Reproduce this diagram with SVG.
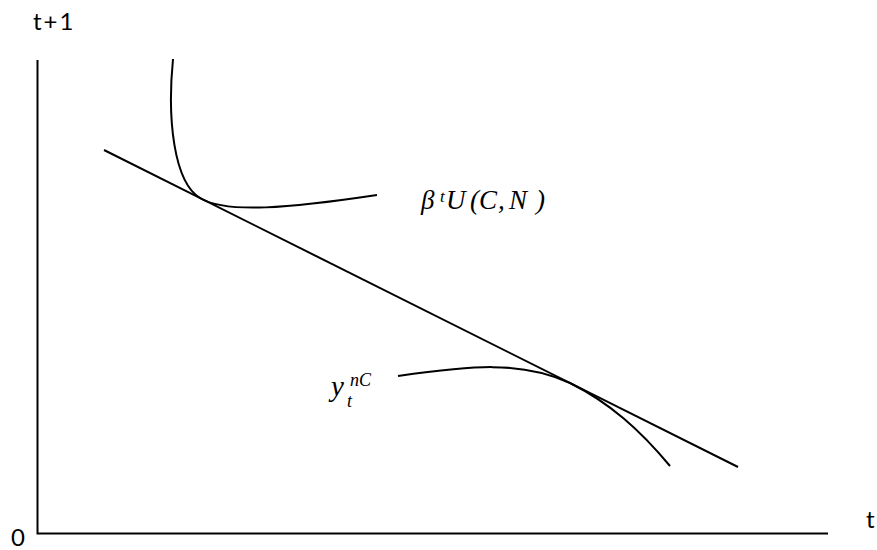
<svg xmlns="http://www.w3.org/2000/svg" width="877" height="550" viewBox="0 0 877 550">
<style>
.ln{fill:none;stroke:#000;stroke-width:2;stroke-linecap:butt}
.ax{font-family:Lato,"Open Sans","Liberation Sans",sans-serif;font-size:24px;fill:#000}
.m{font-family:"Liberation Serif","Times New Roman",serif;font-style:italic;fill:#000}
</style>
<rect width="877" height="550" fill="#fff"/>
<g id="axes">
<path class="ln" d="M37.5,60 V533.5 H828"/>
<text class="ax" x="33" y="30" letter-spacing="2">t+1</text>
<text class="ax" x="866" y="528">t</text>
<text class="ax" x="11" y="546">0</text>
</g>
<g id="connectors">
<path id="budget-line" class="ln" d="M104,150 L738,467"/>
</g>
<g id="indifference-curve">
<path class="ln" d="M173,59 C167,120 174,182 200,198 C226,214 290,208 377,195"/>
<text class="m" font-size="27"><tspan x="421" y="209">β</tspan><tspan x="440" y="202" font-size="17">t</tspan><tspan x="446" y="209">U</tspan><tspan x="470" y="209">(</tspan><tspan x="479" y="209">C</tspan><tspan x="498" y="209">,</tspan><tspan x="509" y="209">N</tspan><tspan x="536" y="209">)</tspan></text>
</g>
<g id="production-curve">
<path class="ln" d="M398,376 C470,366 520,360 570,383 C610,403 640,430 670,466"/>
<text class="m" font-size="29"><tspan x="331" y="396">y</tspan><tspan x="347" y="407" font-size="18">t</tspan><tspan x="350" y="386" font-size="18">nC</tspan></text>
</g>
</svg>
